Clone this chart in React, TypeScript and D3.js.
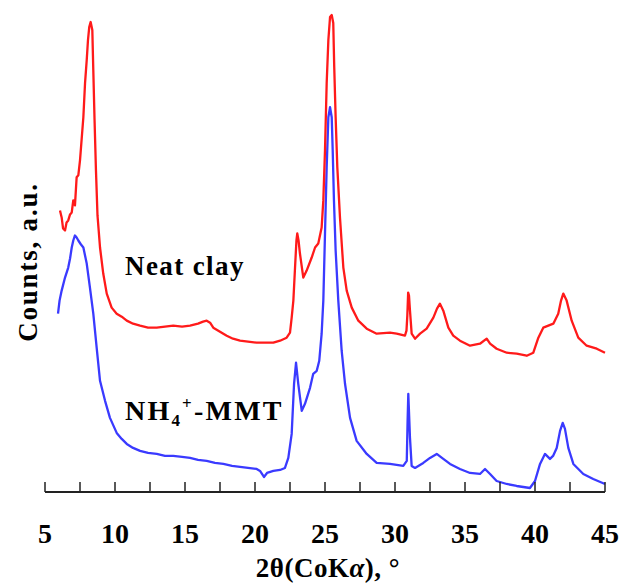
import React from 'react';
import * as d3 from 'd3';

// 2theta (deg), counts (a.u.)
const neatClay: [number, number][] = [
  [6.07, 2770], [6.19, 2700], [6.29, 2590], [6.43, 2570], [6.54, 2650], [6.66, 2670],
  [6.79, 2730], [6.91, 2750], [7.02, 2870], [7.14, 2820], [7.26, 3100], [7.38, 3120],
  [7.5, 3270], [7.74, 3700], [7.86, 4040], [7.98, 4270], [8.07, 4470], [8.16, 4600],
  [8.26, 4650], [8.38, 4570], [8.45, 4170], [8.54, 3670], [8.64, 3170], [8.75, 2720],
  [8.93, 2400], [9.16, 2140], [9.41, 1940], [9.76, 1800], [10.12, 1740], [10.48, 1710],
  [10.84, 1670], [11.29, 1640], [11.79, 1620], [12.36, 1600], [12.98, 1600], [13.57, 1610],
  [14.16, 1620], [14.79, 1610], [15.36, 1620], [15.93, 1640], [16.29, 1660], [16.55, 1670],
  [16.79, 1650], [17.02, 1600], [17.5, 1560], [17.98, 1520], [18.43, 1490], [18.93, 1470],
  [19.5, 1460], [20.12, 1450], [20.71, 1450], [21.31, 1450], [21.79, 1470], [22.26, 1500],
  [22.5, 1550], [22.62, 1700], [22.74, 1870], [22.86, 2200], [22.96, 2470], [23.02, 2540],
  [23.11, 2470], [23.21, 2340], [23.45, 2100], [23.69, 2170], [24.05, 2300], [24.29, 2400],
  [24.52, 2440], [24.76, 2600], [24.88, 2870], [25.0, 3370], [25.12, 4040], [25.24, 4470],
  [25.36, 4700], [25.48, 4720], [25.59, 4640], [25.66, 4200], [25.76, 3700], [25.88, 3200],
  [26.07, 2700], [26.31, 2200], [26.55, 1970], [26.91, 1800], [27.38, 1670], [27.98, 1590],
  [28.69, 1540], [29.64, 1550], [30.12, 1540], [30.71, 1520], [30.82, 1570], [30.88, 1720],
  [30.94, 1950], [31.0, 1920], [31.07, 1770], [31.19, 1540], [31.43, 1490], [31.79, 1540],
  [32.26, 1590], [32.74, 1700], [33.0, 1790], [33.21, 1840], [33.45, 1770], [33.81, 1600],
  [34.16, 1520], [34.64, 1470], [35.36, 1420], [36.07, 1440], [36.55, 1490], [36.79, 1440],
  [37.26, 1390], [37.98, 1350], [38.69, 1340], [39.41, 1320], [39.88, 1350], [40.24, 1500],
  [40.59, 1600], [41.31, 1640], [41.66, 1740], [41.86, 1870], [42.02, 1940], [42.26, 1870],
  [42.62, 1670], [43.09, 1500], [43.69, 1420], [44.41, 1390], [45.0, 1350],
];

const nh4Mmt: [number, number][] = [
  [5.93, 1740], [6.04, 1870], [6.19, 1970], [6.43, 2100], [6.66, 2200], [6.79, 2290],
  [6.91, 2400], [7.02, 2470], [7.14, 2520], [7.26, 2500], [7.38, 2470], [7.57, 2430],
  [7.74, 2400], [7.98, 2240], [8.21, 2000], [8.45, 1740], [8.69, 1400], [8.93, 1070],
  [9.29, 870], [9.64, 700], [10.12, 550], [10.48, 490], [10.84, 440], [11.29, 400],
  [11.79, 370], [12.36, 350], [12.98, 340], [13.57, 320], [14.16, 320], [14.79, 310],
  [15.36, 300], [15.93, 280], [16.55, 270], [17.14, 250], [17.74, 240], [18.36, 220],
  [18.93, 210], [19.5, 200], [20.12, 190], [20.36, 170], [20.64, 110], [20.86, 150],
  [21.31, 170], [21.79, 180], [22.14, 200], [22.38, 300], [22.62, 540], [22.79, 1040],
  [22.93, 1250], [23.09, 1040], [23.34, 770], [23.57, 840], [23.93, 1000], [24.16, 1140],
  [24.41, 1170], [24.59, 1270], [24.76, 1540], [24.88, 1870], [25.0, 2540], [25.12, 3200],
  [25.24, 3700], [25.36, 3800], [25.48, 3700], [25.55, 3370], [25.64, 2870], [25.76, 2370],
  [25.95, 1870], [26.19, 1370], [26.43, 1040], [26.79, 700], [27.26, 470], [27.98, 340],
  [28.69, 250], [29.64, 240], [30.59, 220], [30.84, 270], [30.9, 670], [30.95, 940],
  [31.01, 720], [31.07, 500], [31.19, 220], [31.43, 200], [32.02, 250], [32.5, 300],
  [32.98, 340], [33.45, 290], [33.93, 240], [34.64, 190], [35.36, 150], [36.07, 140],
  [36.43, 190], [36.79, 140], [37.26, 70], [37.98, 40], [38.69, 20], [39.64, 0],
  [40.0, 70], [40.36, 240], [40.71, 340], [41.07, 290], [41.29, 320], [41.55, 400],
  [41.79, 570], [41.98, 650], [42.14, 590], [42.38, 400], [42.74, 240], [43.45, 140],
  [44.16, 90], [45.0, 40],
];

const majorTicks = [5, 10, 15, 20, 25, 30, 35, 40, 45];
const minorTicks = [7.5, 12.5, 17.5, 22.5, 27.5, 32.5, 37.5, 42.5];

const W = 621;
const H = 583;
const font = '"Liberation Serif", "Times New Roman", serif';

export default function App() {
  const x = d3.scaleLinear().domain([5, 45]).range([45, 605]);
  const y = d3.scaleLinear().domain([0, 4870]).range([488, 0]);
  const line = d3.line<[number, number]>().x(d => x(d[0])).y(d => y(d[1]));
  const axisY = 492;

  return (
    <svg width={W} height={H} style={{ position: 'absolute', left: 0, top: 0, background: '#fff' }}>
      <path d={line(nh4Mmt) ?? ''} fill="none" stroke="#3a3aff" strokeWidth={2.3} strokeLinejoin="round" />
      <path d={line(neatClay) ?? ''} fill="none" stroke="#ff1a1a" strokeWidth={2.3} strokeLinejoin="round" />

      {/* x axis */}
      <line x1={x(5)} x2={x(45)} y1={axisY} y2={axisY} stroke="#222" strokeWidth={2} />
      {[...majorTicks, ...minorTicks].map(t => (
        <line key={t} x1={x(t)} x2={x(t)} y1={axisY} y2={axisY - 10} stroke="#222" strokeWidth={1.5} />
      ))}
      {majorTicks.map(t => (
        <text key={t} x={x(t)} y={543} textAnchor="middle" fontFamily={font} fontWeight="bold" fontSize={28}>
          {t}
        </text>
      ))}
      <text x={328} y={577} textAnchor="middle" fontFamily={font} fontWeight="bold" fontSize={27} letterSpacing={0.5}>
        2θ(CoK<tspan fontStyle="italic">α</tspan>), °
      </text>

      <text transform="translate(37,262) rotate(-90)" textAnchor="middle" fontFamily={font} fontWeight="bold" fontSize={27} letterSpacing={1.8}>
        Counts, a.u.
      </text>

      <text x={125} y={275} fontFamily={font} fontWeight="bold" fontSize={27} letterSpacing={1.4}>Neat clay</text>
      <text x={125} y={420} fontFamily={font} fontWeight="bold" fontSize={28} letterSpacing={2.2}>
        NH<tspan fontSize={17} dy={6}>4</tspan><tspan fontSize={17} dy={-17}>+</tspan><tspan dy={11}>-MMT</tspan>
      </text>
    </svg>
  );
}
